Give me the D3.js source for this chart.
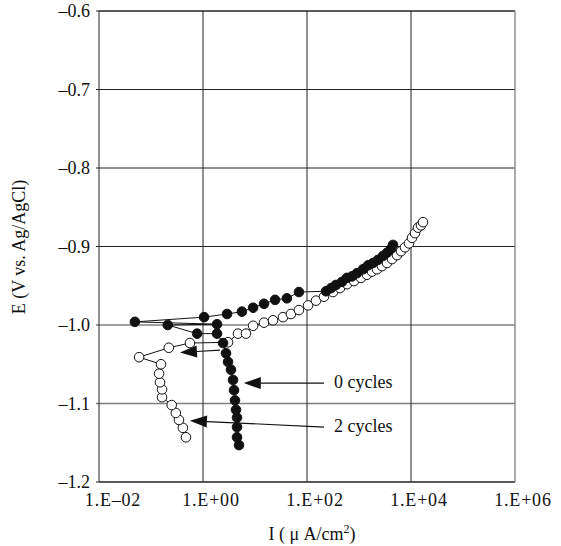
<!DOCTYPE html>
<html>
<head>
<meta charset="utf-8">
<script src="https://cdn.jsdelivr.net/npm/d3@7"></script>
<style>
  body { margin: 0; background: #fff; }
  svg { display: block; }
  text { font-family: "Liberation Serif", "Times New Roman", serif; fill: #111; }
</style>
</head>
<body>
<div id="chart"></div>
<script>
// polarization curves, I in uA/cm2, E in V vs Ag/AgCl
var cycles0I = [4.92, 4.51, 4.51, 4.51, 4.31, 4.12, 3.95, 3.78, 3.45, 3.03, 2.77, 2.43,
    1.86, 0.77, 0.21, 1.86, 0.049, 1.05, 2.9, 5.6, 9.2, 14.9, 24.3, 41, 70,
    232, 290, 361, 471, 588, 733, 915, 1194, 1490, 1860, 2320, 2900, 3450, 4120, 4510];
var cycles0E = [-1.153, -1.143, -1.130, -1.118, -1.108, -1.096, -1.083, -1.070, -1.057, -1.047, -1.036, -1.023,
    -1.011, -1.011, -1.000, -0.999, -0.996, -0.990, -0.986, -0.983, -0.978, -0.973, -0.968, -0.966, -0.958,
    -0.957, -0.953, -0.949, -0.945, -0.940, -0.938, -0.934, -0.929, -0.924, -0.921, -0.917, -0.912, -0.908, -0.903, -0.898];

var cycles2I = [0.47, 0.41, 0.345, 0.30, 0.25, 0.163, 0.163, 0.149, 0.143, 0.156, 0.059, 0.22, 0.56,
    3.03, 4.71, 6.71, 9.2, 14.9, 22.2, 34.5, 49, 70, 105, 149, 212, 316, 431, 588, 802,
    1092, 1426, 1778, 2218, 2768, 3452, 4315, 5380, 6430, 7670, 9160, 10450, 11940, 13650, 15560, 17020];
var cycles2E = [-1.143, -1.131, -1.121, -1.112, -1.102, -1.092, -1.082, -1.073, -1.062, -1.050, -1.041, -1.029, -1.023,
    -1.022, -1.011, -1.011, -1.001, -0.997, -0.994, -0.990, -0.986, -0.981, -0.975, -0.969, -0.964, -0.958, -0.953, -0.948, -0.944,
    -0.940, -0.936, -0.932, -0.929, -0.925, -0.921, -0.916, -0.911, -0.906, -0.901, -0.896, -0.889, -0.883, -0.876, -0.873, -0.869];

var xTicks = [1e-2, 1, 1e2, 1e4, 1e6];
var xTickLabels = ['1.E\u201302', '1.E+00', '1.E+02', '1.E+04', '1.E+06'];
var yTicks = [-0.6, -0.7, -0.8, -0.9, -1.0, -1.1, -1.2];
var yTickLabels = ['\u20130.6', '\u20130.7', '\u20130.8', '\u20130.9', '\u20131.0', '\u20131.1', '\u20131.2'];

// annotation arrows: [from I, from E, to I, to E, label]
var arrows = [
    [212, -1.074, 6.1, -1.074, '0 cycles'],
    [212, -1.130, 0.56, -1.122, '2 cycles'],
    [2.12, -1.032, 0.36, -1.035, '']
];

var width = 561, height = 546;
var margin = { left: 99, right: 46, top: 11, bottom: 64 };

var svg = d3.select('#chart').append('svg')
    .attr('width', width)
    .attr('height', height);

var x = d3.scaleLog().domain([1e-2, 1e6]).range([margin.left, width - margin.right]);
var y = d3.scaleLinear().domain([-0.6, -1.2]).range([margin.top, height - margin.bottom]);

var g = svg.append('g');

// horizontal grid
yTicks.forEach(function (v, i) {
    var lower = v <= -0.95 && v >= -1.15;
    g.append('line')
        .attr('x1', x.range()[0] - 3).attr('x2', x.range()[1])
        .attr('y1', y(v)).attr('y2', y(v))
        .attr('stroke', lower ? '#808080' : '#222')
        .attr('stroke-width', lower ? 1.6 : 1);
    g.append('text')
        .attr('x', x.range()[0] - 9)
        .attr('y', y(v) + 6)
        .attr('text-anchor', 'end')
        .attr('font-size', 18)
        .text(yTickLabels[i]);
});

// vertical grid
xTicks.forEach(function (v, i) {
    if (i > 0 && i < xTicks.length - 1) {
        g.append('line')
            .attr('x1', x(v)).attr('x2', x(v))
            .attr('y1', y.range()[0]).attr('y2', y.range()[1])
            .attr('stroke', '#222');
    }
    g.append('text')
        .attr('x', x(v) + (i === 0 ? 14 : 8))
        .attr('y', y.range()[1] + 24)
        .attr('text-anchor', 'middle')
        .attr('font-size', 18)
        .attr('letter-spacing', 0.8)
        .text(xTickLabels[i]);
});

// frame
g.append('path')
    .attr('d', 'M' + x.range()[1] + ',' + y.range()[0] + 'H' + x.range()[0] + 'V' + y.range()[1] + 'H' + x.range()[1])
    .attr('fill', 'none').attr('stroke', '#222');
g.append('line')
    .attr('x1', x.range()[1]).attr('x2', x.range()[1])
    .attr('y1', y.range()[0]).attr('y2', y.range()[1])
    .attr('stroke', '#888').attr('stroke-width', 1.4);

// axis titles
svg.append('text')
    .attr('transform', 'translate(25,' + 247 + ') rotate(-90)')
    .attr('text-anchor', 'middle')
    .attr('font-size', 18)
    .text('E (V vs. Ag/AgCl)');

var xt = svg.append('text')
    .attr('x', 312)
    .attr('y', 540)
    .attr('text-anchor', 'middle')
    .attr('font-size', 18)
    .text('I ( \u03bc A/cm');
xt.append('tspan').attr('font-size', 12).attr('dy', -7).text('2');
xt.append('tspan').attr('dy', 7).text(')');

var line = d3.line().x(d => x(d[0])).y(d => y(d[1]));

var series = [
    { I: cycles2I, E: cycles2E, fill: '#fff' },
    { I: cycles0I, E: cycles0E, fill: '#111' }
];

series.forEach(function (s) {
    var pts = s.I.map((v, i) => [v, s.E[i]]);
    g.append('path')
        .attr('d', line(pts))
        .attr('fill', 'none')
        .attr('stroke', '#111')
        .attr('stroke-width', 1);
    g.append('g').selectAll('circle').data(pts).enter()
        .append('circle')
        .attr('cx', d => x(d[0]))
        .attr('cy', d => y(d[1]))
        .attr('r', 4.8)
        .attr('fill', s.fill)
        .attr('stroke', '#111')
        .attr('stroke-width', 1);
});

// arrows
arrows.forEach(function (a) {
    var x0 = x(a[0]), y0 = y(a[1]), x1 = x(a[2]), y1 = y(a[3]);
    var ang = Math.atan2(y1 - y0, x1 - x0);
    var len = 17, hw = 6;
    var bx = x1 - len * Math.cos(ang), by = y1 - len * Math.sin(ang);
    g.append('line')
        .attr('x1', x0).attr('y1', y0).attr('x2', bx).attr('y2', by)
        .attr('stroke', '#111').attr('stroke-width', 1.2);
    g.append('path')
        .attr('d', 'M' + x1 + ',' + y1 +
            'L' + (bx - hw * Math.sin(ang)) + ',' + (by + hw * Math.cos(ang)) +
            'L' + (bx + hw * Math.sin(ang)) + ',' + (by - hw * Math.cos(ang)) + 'Z')
        .attr('fill', '#111');
    if (a[4]) {
        g.append('text')
            .attr('x', x0 + 10)
            .attr('y', y0 + 5)
            .attr('font-size', 18)
            .text(a[4]);
    }
});
</script>
</body>
</html>
